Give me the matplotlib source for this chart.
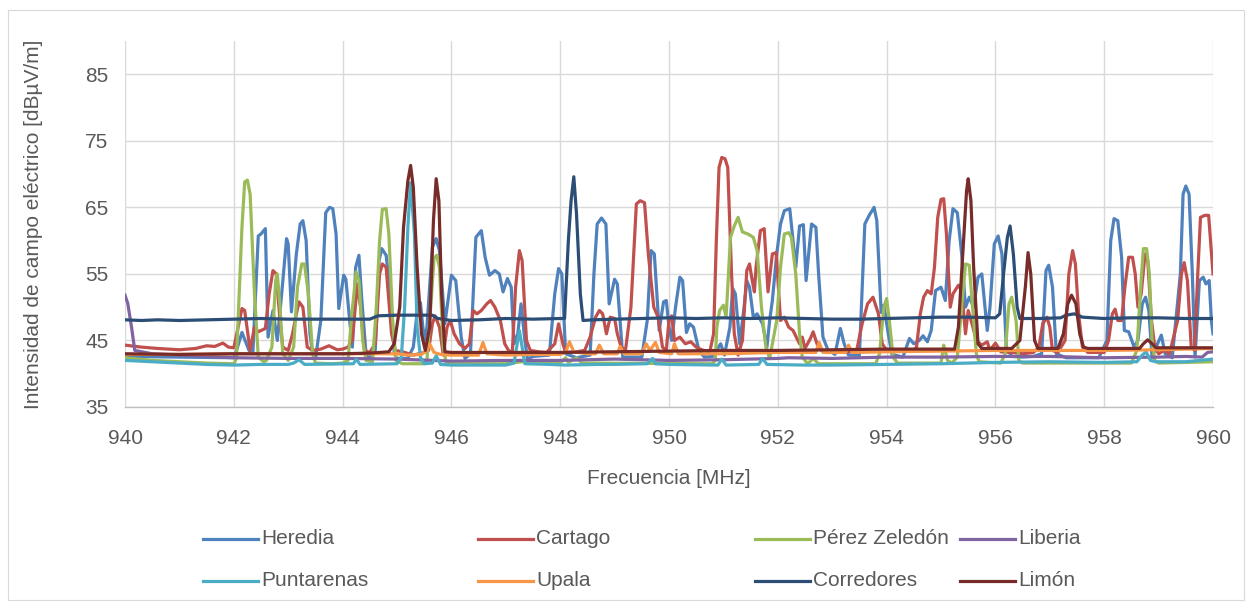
import matplotlib
matplotlib.use("Agg")
import matplotlib.pyplot as plt
from matplotlib.lines import Line2D
from matplotlib.patches import Rectangle

plt.rcParams['font.family'] = ['Liberation Sans', 'DejaVu Sans']

# ---------------- data (frequency MHz, field strength dBuV/m) ----------------
heredia_f = [940.0, 941.0, 942.0, 942.05, 942.15, 942.28, 942.35, 942.45, 942.5, 942.58,
             942.63, 942.72, 942.8, 942.88, 942.97, 943.0, 943.06, 943.15, 943.22, 943.27,
             943.33, 943.4, 943.45, 943.5, 943.6, 943.69, 943.76, 943.82, 943.88, 943.93,
             944.02, 944.06, 944.13, 944.18, 944.24, 944.3, 944.35, 944.43, 944.5, 944.6,
             944.67, 944.72, 944.8, 944.88, 944.95, 945.0, 945.2, 945.3, 945.38, 945.43,
             945.5, 945.55, 945.65, 945.72, 945.78, 945.88, 946.0, 946.08, 946.18, 946.25,
             946.35, 946.45, 946.55, 946.62, 946.7, 946.8, 946.88, 946.95, 947.03, 947.1,
             947.15, 947.22, 947.28, 947.35, 947.4, 947.5, 947.8, 947.9, 947.97, 948.03,
             948.1, 948.3, 948.55, 948.62, 948.68, 948.76, 948.84, 948.9, 949.0, 949.05,
             949.15, 949.5, 949.6, 949.67, 949.73, 949.82, 949.9, 949.95, 950.0, 950.05,
             950.12, 950.2, 950.25, 950.32, 950.38, 950.45, 950.55, 950.65, 950.8, 950.95,
             951.02, 951.12, 951.17, 951.22, 951.3, 951.38, 951.43, 951.48, 951.55, 951.62,
             951.72, 951.8, 951.85, 951.9, 951.98, 952.05, 952.12, 952.22, 952.28, 952.33,
             952.4, 952.47, 952.52, 952.62, 952.7, 952.75, 952.83, 952.92, 953.05, 953.15,
             953.22, 953.3, 953.5, 953.6, 953.68, 953.77, 953.82, 953.9, 953.95, 954.03,
             954.1, 954.3, 954.42, 954.5, 954.6, 954.67, 954.75, 954.82, 954.9, 955.0,
             955.08, 955.15, 955.22, 955.3, 955.38, 955.45, 955.52, 955.6, 955.68, 955.75,
             955.85, 955.9, 955.98, 956.05, 956.12, 956.2, 956.3, 956.5, 956.7, 956.85,
             956.93, 956.98, 957.05, 957.12, 957.3, 957.9, 958.05, 958.12, 958.18, 958.25,
             958.32, 958.37, 958.45, 958.55, 958.62, 958.7, 958.76, 958.82, 958.88, 958.98,
             959.05, 959.12, 959.25, 959.4, 959.45, 959.5, 959.56, 959.62, 959.67, 959.75,
             959.82, 959.87, 959.93, 959.97, 960.0]
heredia_v = [42.6, 42.5, 42.4, 43.5, 46.2, 43.5, 43.0, 60.7, 61.0, 61.8,
             45.5, 49.5, 45.0, 52.0, 60.3, 59.5, 49.3, 58.0, 62.5, 63.0,
             60.0, 46.0, 43.0, 42.2, 48.0, 64.2, 65.0, 64.8, 61.0, 49.8,
             54.8, 54.2, 48.0, 44.0, 56.0, 57.8, 51.5, 43.0, 42.3, 43.5,
             57.0, 58.8, 57.8, 52.0, 43.0, 42.3, 42.3, 44.0, 50.0, 50.7,
             45.0, 47.0, 59.0, 60.3, 58.5, 47.5, 54.8, 54.0, 45.5, 42.3,
             43.0, 60.5, 61.5, 57.5, 54.8, 55.5, 55.0, 52.3, 54.3, 53.0,
             44.5, 46.0, 50.5, 45.0, 42.2, 42.6, 42.8, 52.0, 55.8, 55.0,
             43.0, 42.4, 42.8, 55.0, 62.5, 63.4, 62.5, 50.5, 54.2, 53.5,
             42.5, 42.5, 48.0, 58.5, 58.0, 46.5, 50.8, 51.0, 47.0, 45.0,
             50.0, 54.5, 54.0, 46.2, 47.5, 47.0, 43.5, 42.5, 42.6, 44.5,
             42.8, 47.0, 52.8, 52.0, 44.5, 50.0, 54.0, 53.0, 48.5, 49.0,
             47.5, 44.0, 48.0, 51.0, 58.0, 62.5, 64.5, 64.8, 60.0, 56.0,
             62.2, 62.4, 54.0, 62.5, 62.0, 55.0, 45.5, 43.6, 42.9, 46.8,
             44.5, 42.8, 42.8, 62.5, 63.8, 65.0, 63.0, 49.2, 50.3, 46.0,
             42.9, 42.5, 45.3, 44.5, 45.0, 45.7, 44.8, 46.5, 52.5, 53.0,
             51.0, 60.0, 64.8, 64.2, 58.0, 50.0, 51.5, 50.0, 54.5, 55.0,
             46.5, 50.0, 59.5, 60.7, 58.0, 44.0, 42.6, 42.5, 42.6, 43.0,
             55.5, 56.3, 53.0, 43.0, 42.4, 42.4, 45.0, 60.0, 63.3, 63.0,
             57.5, 46.5, 46.3, 44.0, 45.0, 50.5, 51.5, 49.5, 42.5, 44.5,
             45.8, 43.0, 42.4, 55.0, 67.0, 68.2, 67.0, 55.0, 42.5, 54.0,
             54.5, 53.5, 54.0, 48.0, 46.0]

cartago_f = [940.0, 940.3, 940.6, 941.0, 941.3, 941.5, 941.65, 941.8, 941.9, 942.0,
             942.08, 942.15, 942.2, 942.3, 942.38, 942.45, 942.58, 942.65, 942.72, 942.78,
             942.85, 942.9, 943.0, 943.08, 943.15, 943.2, 943.27, 943.35, 943.45, 943.6,
             943.75, 943.9, 944.0, 944.1, 944.18, 944.27, 944.33, 944.4, 944.5, 944.6,
             944.68, 944.73, 944.8, 944.9, 944.97, 945.1, 945.3, 945.5, 945.58, 945.65,
             945.7, 945.78, 945.85, 945.92, 945.98, 946.05, 946.15, 946.25, 946.33, 946.4,
             946.47, 946.55, 946.65, 946.72, 946.8, 946.9, 946.98, 947.05, 947.12, 947.18,
             947.25, 947.3, 947.38, 947.45, 947.6, 947.75, 947.9, 947.97, 948.05, 948.1,
             948.3, 948.45, 948.55, 948.65, 948.72, 948.78, 948.85, 948.92, 949.0, 949.05,
             949.12, 949.2, 949.3, 949.4, 949.47, 949.55, 949.62, 949.72, 949.8, 949.88,
             949.95, 950.0, 950.05, 950.1, 950.2, 950.3, 950.4, 950.5, 950.6, 950.75,
             950.82, 950.87, 950.92, 950.97, 951.03, 951.08, 951.15, 951.2, 951.27, 951.35,
             951.43, 951.48, 951.53, 951.57, 951.6, 951.68, 951.75, 951.82, 951.9, 951.97,
             952.05, 952.12, 952.2, 952.28, 952.4, 952.45, 952.5, 952.6, 952.65, 952.72,
             952.8, 953.0, 953.3, 953.45, 953.55, 953.65, 953.75, 953.85, 953.92, 954.0,
             954.3, 954.5, 954.55, 954.62, 954.68, 954.75, 954.82, 954.88, 954.94, 955.0,
             955.05, 955.1, 955.17, 955.22, 955.32, 955.38, 955.45, 955.5, 955.57, 955.65,
             955.75, 955.85, 955.9, 956.0, 956.1, 956.3, 956.5, 956.7, 956.8, 956.87,
             956.95, 957.0, 957.05, 957.15, 957.28, 957.35, 957.42, 957.47, 957.53, 957.6,
             957.7, 958.0, 958.08, 958.15, 958.2, 958.25, 958.32, 958.38, 958.45, 958.52,
             958.57, 958.62, 958.68, 958.75, 958.8, 958.87, 958.93, 959.0, 959.1, 959.2,
             959.35, 959.42, 959.47, 959.53, 959.6, 959.66, 959.72, 959.77, 959.85, 959.92,
             960.0]
cartago_v = [44.3, 44.0, 43.8, 43.6, 43.8, 44.2, 44.1, 44.6, 44.0, 43.9,
             47.0, 49.8, 49.5, 43.5, 47.0, 46.3, 46.8, 52.0, 55.5, 55.0,
             48.0, 44.0, 43.5, 46.0, 49.0, 50.8, 50.0, 44.0, 43.5, 43.7,
             44.2, 43.6, 43.7, 44.0, 45.0, 53.5, 50.0, 43.5, 43.2, 44.5,
             55.0, 56.5, 56.0, 46.0, 43.5, 43.3, 42.8, 43.2, 43.5, 47.5,
             48.7, 47.0, 42.8, 47.0, 48.0, 46.0, 44.5, 43.8, 44.5, 49.5,
             49.0, 49.5, 50.5, 51.0, 50.0, 48.0, 44.5, 43.5, 43.2, 53.0,
             58.5, 57.0, 45.0, 43.5, 43.3, 43.2, 44.5, 47.5, 44.5, 43.2,
             43.3, 43.5, 45.5, 48.5, 49.5, 49.0, 46.0, 48.5, 48.3, 46.0,
             44.0, 43.5, 50.0, 65.5, 66.0, 65.7, 58.0, 50.0, 48.5, 44.0,
             43.5, 48.0, 48.7, 45.0, 45.5, 44.5, 44.8, 44.0, 43.6, 43.3,
             46.0, 60.0, 71.0, 72.5, 72.3, 71.0, 55.0, 46.0, 42.8, 45.0,
             55.5, 56.5, 54.0, 52.3, 56.0, 61.5, 61.8, 52.3, 58.0, 58.2,
             48.0, 48.5, 47.0, 46.5, 44.5, 45.5, 43.8, 45.3, 46.3, 44.5,
             43.5, 43.2, 43.3, 43.5, 47.5, 50.5, 51.5, 49.0, 44.5, 43.5,
             43.4, 43.5, 44.0, 49.0, 51.5, 52.5, 52.0, 56.0, 63.5, 66.2,
             66.3, 61.0, 50.0, 52.0, 53.3, 52.5, 46.0, 49.5, 47.5, 45.0,
             44.3, 44.8, 43.5, 44.6, 43.3, 43.2, 43.0, 43.2, 44.0, 47.5,
             48.5, 47.0, 43.5, 43.2, 45.0, 55.0, 58.5, 56.5, 49.0, 44.0,
             43.2, 43.2, 45.0, 49.0, 49.7, 48.0, 48.0, 53.0, 57.5, 57.5,
             55.0, 50.0, 52.0, 58.0, 57.0, 48.0, 44.0, 43.0, 43.5, 43.0,
             48.0, 55.0, 56.7, 54.0, 44.0, 43.5, 55.0, 63.5, 63.8, 63.8,
             55.0]

perez_f = [940.0, 940.5, 941.0, 941.5, 942.0, 942.05, 942.15, 942.2, 942.25, 942.3,
           942.38, 942.45, 942.55, 942.6, 942.7, 942.77, 942.8, 942.85, 942.9, 943.0,
           943.1, 943.17, 943.25, 943.3, 943.37, 943.45, 943.5, 943.8, 944.0, 944.1,
           944.17, 944.25, 944.3, 944.37, 944.43, 944.55, 944.62, 944.68, 944.73, 944.8,
           944.85, 944.92, 944.98, 945.1, 945.5, 945.55, 945.62, 945.68, 945.73, 945.78,
           945.85, 945.9, 946.0, 947.0, 947.3, 948.0, 948.1, 948.15, 948.3, 948.4,
           950.8, 950.85, 950.88, 950.93, 951.0, 951.05, 951.13, 951.2, 951.27, 951.35,
           951.45, 951.55, 951.62, 951.7, 951.78, 951.85, 951.98, 952.05, 952.12, 952.2,
           952.25, 952.33, 952.4, 952.45, 952.55, 952.65, 952.75, 953.8, 953.87, 953.95,
           954.0, 954.05, 954.12, 954.2, 955.0, 955.05, 955.12, 955.2, 955.3, 955.38,
           955.45, 955.52, 955.58, 955.65, 955.7, 956.1, 956.18, 956.25, 956.3, 956.38,
           956.43, 956.5, 958.5, 958.6, 958.67, 958.72, 958.78, 958.83, 958.88, 958.93,
           959.0, 960.0]
perez_v = [42.4, 42.0, 41.8, 41.6, 41.5, 42.3, 62.0, 68.8, 69.1, 67.0,
           52.0, 42.5, 41.8, 42.0, 44.0, 54.0, 55.0, 50.0, 43.0, 42.0,
           44.0, 53.0, 56.5, 56.5, 52.0, 43.0, 41.6, 41.5, 41.6, 42.0,
           49.0, 55.3, 54.0, 45.0, 42.0, 41.8, 50.0, 60.0, 64.7, 64.8,
           61.0, 48.0, 42.0, 41.5, 41.5, 42.0, 50.0, 57.3, 57.8, 56.0,
           44.0, 41.8, 41.5, 41.5, 41.8, 41.6, 42.4, 41.7, 42.4, 41.6,
           41.5, 42.0, 47.0, 49.5, 50.3, 48.5, 60.5, 62.2, 63.5, 61.3,
           61.0, 60.5, 58.5, 50.0, 44.0, 42.3, 48.0, 56.0, 61.0, 61.2,
           60.5, 55.0, 46.0, 42.5, 41.5, 42.3, 41.5, 41.5, 43.0, 50.0,
           51.3, 48.0, 42.5, 41.6, 41.6, 44.3, 42.0, 41.6, 42.5, 50.0,
           56.5, 56.3, 50.0, 43.0, 41.8, 41.6, 43.0, 50.5, 51.5, 48.0,
           42.0, 41.6, 41.6, 43.5, 53.0, 58.8, 58.8, 55.0, 45.0, 42.0,
           41.6, 41.8]

liberia_f = [940.0, 940.05, 940.12, 940.18, 940.5, 941.0, 941.5, 942.0, 943.0, 944.0,
             945.0, 946.0, 947.0, 948.0, 949.0, 950.0, 951.0, 952.0, 952.2, 953.0,
             954.0, 955.0, 956.0, 957.0, 958.0, 959.0, 959.5, 959.8, 959.9, 960.0]
liberia_v = [51.8, 50.6, 47.0, 43.5, 43.0, 42.8, 42.6, 42.4, 42.3, 42.3,
             42.2, 41.9, 42.0, 42.0, 42.2, 42.0, 42.1, 42.3, 42.4, 42.3,
             42.5, 42.5, 42.6, 42.6, 42.4, 42.5, 42.6, 42.5, 43.2, 43.3]

puntarenas_f = [940.0, 940.5, 941.0, 941.5, 942.0, 942.5, 943.0, 943.1, 943.2, 943.3,
                944.2, 944.25, 944.32, 945.0, 945.08, 945.14, 945.2, 945.25, 945.32, 945.37,
                945.43, 945.5, 945.65, 945.72, 945.8, 946.0, 946.5, 947.0, 947.15, 947.2,
                947.25, 947.3, 947.35, 947.8, 948.1, 948.7, 949.0, 949.6, 949.7, 949.75,
                950.0, 950.9, 950.97, 951.05, 951.65, 951.72, 951.8, 952.5, 953.0, 954.0,
                955.0, 956.0, 957.0, 958.0, 958.6, 958.7, 958.77, 958.85, 958.95, 959.5,
                960.0]
puntarenas_v = [42.0, 41.8, 41.6, 41.4, 41.3, 41.4, 41.4, 41.6, 42.1, 41.4,
                41.5, 42.2, 41.4, 41.5, 42.5, 50.0, 62.0, 68.7, 61.0, 47.0,
                42.5, 41.5, 41.6, 42.7, 41.4, 41.3, 41.3, 41.3, 41.6, 44.0,
                46.5, 44.0, 41.5, 41.4, 41.3, 41.4, 41.4, 41.5, 42.3, 41.5,
                41.4, 41.3, 42.2, 41.3, 41.4, 42.3, 41.4, 41.3, 41.3, 41.4,
                41.5, 41.7, 41.8, 41.7, 41.8, 42.8, 43.3, 42.0, 41.8, 41.8,
                42.2]

upala_f = [940.0, 941.0, 942.0, 943.0, 944.0, 945.0, 945.2, 945.45, 945.55, 945.6,
           945.68, 945.8, 946.0, 946.5, 946.58, 946.65, 947.0, 947.5, 948.0, 948.1,
           948.17, 948.25, 948.5, 948.65, 948.72, 948.8, 949.05, 949.1, 949.17, 949.5,
           949.58, 949.65, 949.75, 949.82, 950.05, 950.1, 950.17, 951.0, 952.0, 952.7,
           952.76, 952.83, 953.25, 953.3, 953.37, 954.0, 955.0, 956.0, 957.0, 958.0,
           959.0, 960.0]
upala_v = [42.9, 42.9, 43.0, 43.0, 43.0, 43.0, 42.8, 42.9, 43.5, 44.5,
           43.2, 42.9, 42.8, 42.8, 44.7, 43.0, 42.8, 42.9, 42.9, 43.2,
           44.8, 43.3, 43.0, 43.0, 44.3, 43.0, 43.0, 44.1, 43.0, 43.0,
           44.5, 43.5, 44.7, 43.2, 43.0, 44.5, 43.0, 43.0, 43.2, 43.2,
           44.7, 43.2, 43.2, 44.3, 43.2, 43.3, 43.4, 43.5, 43.5, 43.5,
           43.6, 43.8]

corredores_f = [940.0, 940.3, 940.6, 941.0, 941.5, 942.0, 942.5, 943.0, 943.5, 944.0,
                944.5, 944.65, 945.0, 945.5, 945.65, 945.75, 946.0, 946.5, 947.0, 947.5,
                948.0, 948.08, 948.15, 948.2, 948.25, 948.3, 948.37, 948.42, 948.6, 949.0,
                949.5, 950.0, 950.5, 951.0, 951.5, 952.0, 952.5, 953.0, 953.5, 954.0,
                954.5, 955.0, 955.5, 956.0, 956.08, 956.15, 956.22, 956.27, 956.33, 956.4,
                956.45, 956.8, 957.2, 957.3, 957.45, 957.6, 958.0, 958.5, 959.0, 959.5,
                960.0]
corredores_v = [48.1, 48.0, 48.1, 48.0, 48.1, 48.2, 48.3, 48.2, 48.2, 48.2,
                48.2, 48.7, 48.8, 48.8, 48.8, 48.3, 48.0, 48.1, 48.3, 48.2,
                48.3, 48.3, 60.0, 66.0, 69.6, 64.0, 52.0, 48.0, 48.1, 48.2,
                48.3, 48.4, 48.3, 48.4, 48.3, 48.4, 48.3, 48.2, 48.2, 48.3,
                48.4, 48.5, 48.5, 48.4, 49.0, 55.0, 60.5, 62.2, 58.0, 50.0,
                48.3, 48.3, 48.4, 48.8, 49.0, 48.5, 48.3, 48.4, 48.4, 48.3,
                48.3]

limon_f = [940.0, 941.0, 942.0, 943.0, 944.0, 944.5, 944.85, 944.95, 945.05, 945.12,
           945.2, 945.25, 945.3, 945.37, 945.45, 945.52, 945.6, 945.67, 945.72, 945.77,
           945.82, 945.88, 946.0, 947.0, 948.0, 949.0, 950.0, 951.0, 952.0, 953.0,
           954.0, 955.0, 955.25, 955.32, 955.4, 955.47, 955.5, 955.55, 955.6, 955.68,
           955.75, 956.3, 956.45, 956.55, 956.6, 956.65, 956.72, 956.78, 957.15, 957.25,
           957.33, 957.4, 957.48, 957.55, 957.62, 957.7, 958.65, 958.72, 958.8, 958.88,
           958.95, 960.0]
limon_v = [43.0, 42.9, 43.0, 43.0, 43.0, 43.1, 43.3, 44.5, 50.0, 62.0,
           69.0, 71.3, 68.0, 56.0, 46.0, 43.5, 47.0, 63.0, 69.3, 66.0,
           52.0, 43.3, 43.2, 43.2, 43.2, 43.3, 43.4, 43.5, 43.5, 43.6,
           43.7, 43.7, 43.7, 47.0, 58.0, 67.5, 69.3, 66.0, 56.0, 44.5,
           43.8, 43.8, 45.0, 53.0, 58.2, 55.0, 45.0, 43.8, 43.8, 46.0,
           50.5, 51.8, 50.5, 46.0, 44.0, 43.8, 43.8, 44.5, 45.1, 44.5,
           43.9, 43.9]

series_names = ['Heredia', 'Cartago', 'Pérez Zeledón', 'Liberia',
                'Puntarenas', 'Upala', 'Corredores', 'Limón']
series_data = [(heredia_f, heredia_v), (cartago_f, cartago_v), (perez_f, perez_v),
               (liberia_f, liberia_v), (puntarenas_f, puntarenas_v), (upala_f, upala_v),
               (corredores_f, corredores_v), (limon_f, limon_v)]
colors = ['#4F81BD', '#C0504D', '#9BBB59', '#8064A2',
          '#4BACC6', '#F79646', '#2C4D75', '#772C2A']

x_ticks = [940, 942, 944, 946, 948, 950, 952, 954, 956, 958, 960]
y_ticks = [35, 45, 55, 65, 75, 85]

# ---------------- figure ----------------
W, H = 1252, 608
fig = plt.figure(figsize=(W / 100, H / 100), dpi=100)
fig.patch.set_facecolor('white')
fig.add_artist(Rectangle((8 / W, 1 - 600 / H), (1244 - 8) / W, (600 - 10) / H,
                         transform=fig.transFigure, fill=False,
                         edgecolor='#D9D9D9', linewidth=0.8))

ax = fig.add_axes([125 / W, 1 - 407 / H, (1213 - 125) / W, (407 - 41) / H])
text_color = '#595959'
fs = 15

for (fx, fy), c in zip(series_data, colors):
    ax.plot(fx, fy, color=c, linewidth=2.3, solid_joinstyle='round', zorder=3)

ax.set_xlim(940, 960)
ax.set_ylim(35, 90)
ax.set_xticks(x_ticks)
ax.set_yticks(y_ticks)
ax.grid(True, color='#D9D9D9', linewidth=1.0, zorder=0)
ax.set_axisbelow(True)
for s in ['top', 'right', 'left']:
    ax.spines[s].set_visible(False)
ax.spines['bottom'].set_color('#BFBFBF')
ax.spines['bottom'].set_linewidth(1.0)
ax.tick_params(axis='both', length=0, labelsize=fs, labelcolor=text_color)
ax.tick_params(axis='x', pad=16)
ax.tick_params(axis='y', pad=12)
ax.set_xlabel('Frecuencia [MHz]', fontsize=fs, color=text_color, labelpad=15)
ax.set_ylabel('Intensidad de campo eléctrico [dBµV/m]', fontsize=fs, color=text_color,
              labelpad=30)

# legend (Excel-style, two rows of four)
leg_x = [203, 478, 755, 960]
leg_y = [539, 581]
for i, (name, c) in enumerate(zip(series_names, colors)):
    x0 = leg_x[i % 4]
    y0 = leg_y[i // 4]
    fig.add_artist(Line2D([x0 / W, (x0 + 55) / W], [1 - y0 / H, 1 - y0 / H],
                          transform=fig.transFigure, color=c, linewidth=2.3))
    fig.text((x0 + 58) / W, 1 - y0 / H, name, fontsize=fs, color=text_color,
             ha='left', va='center')

fig.savefig('out.png', dpi=100, facecolor='white')
